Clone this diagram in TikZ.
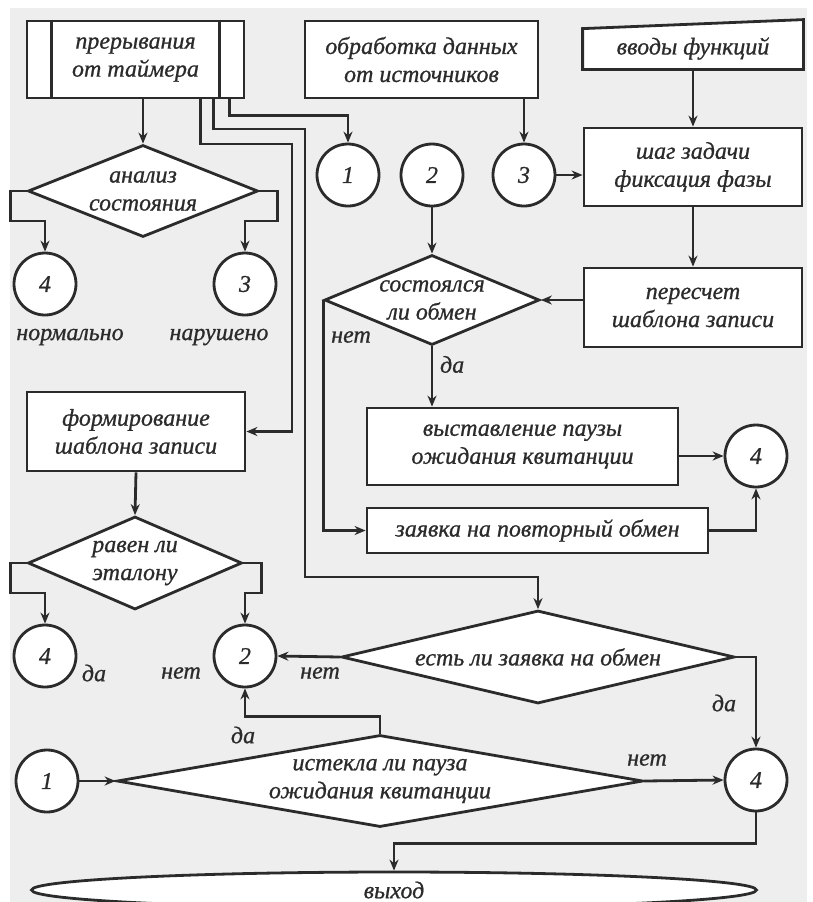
\documentclass[tikz,border=0pt]{standalone}
\usepackage{fontspec}
\setmainfont{Liberation Serif}
\newfontfamily\flowfont{Liberation Serif}[FakeBold=0.8]
\usetikzlibrary{arrows.meta}
\usetikzlibrary{shapes}
\definecolor{bggray}{HTML}{EEEEEE}
\definecolor{ink}{HTML}{2B2B2B}

\begin{document}
\begin{tikzpicture}[x=0.5pt, y=-0.5pt, >={Stealth[length=5.5pt,width=4.5pt]}, line width=1.4pt, color=ink,
    font=\fontsize{12}{14}\flowfont\itshape,
    box/.style = {draw, fill=white, rectangle, align=center, inner sep=0pt},
    cond/.style = {draw, fill=white, diamond, align=center, inner sep=0pt},
    conn/.style = {draw, fill=white, circle, minimum size=31pt, inner sep=0pt},
    term/.style = {draw, fill=white, ellipse, inner sep=0pt}]
    \useasboundingbox (0,0) rectangle (813,902);
    \fill[bggray] (10,8) rectangle (807,902);

    % Nodes
    \node[box, minimum width=108.5pt, minimum height=38.5pt] (timer) at (135.5,59.5) {прерывания\\от таймера};
    \draw ([xshift=13pt]timer.north west) -- ([xshift=13pt]timer.south west);
    \draw ([xshift=-13pt]timer.north east) -- ([xshift=-13pt]timer.south east);
    \node[box, minimum width=116.5pt, minimum height=38.5pt] (src) at (421.5,59.5) {обработка данных\\от источников};
    \node[inner sep=0pt, minimum width=109pt, minimum height=23.5pt] (inputs) at (693,44.5) {};
    \draw[fill=white] (inputs.south west) -- ([yshift=-4.5pt]inputs.north west) -- (inputs.north east) -- (inputs.south east) -- cycle;
    \node at ([yshift=-2pt]inputs.center) {вводы функций};

    \node[conn] (c1top) at (348,175) {1};
    \node[conn] (c2top) at (432,175) {2};
    \node[conn] (c3top) at (524,175) {3};
    \node[box, minimum width=109pt, minimum height=39pt] (step) at (693,167) {шаг задачи\\фиксация фазы};
    \node[box, minimum width=109pt, minimum height=39.5pt] (recalc) at (693,307.5) {пересчет\\шаблона записи};

    \node[cond, aspect=2.5, minimum width=115pt, minimum height=46pt] (state) at (143,191) {анализ\\состояния};
    \node[conn] (c4l) at (45,284) {4};
    \node[conn] (c3l) at (245,284) {3};
    \node (norm) at (70,337) {нормально};
    \node (viol) at (219,337) {нарушено};

    \node[cond, aspect=2.39, minimum width=107.5pt, minimum height=45pt] (exch) at (432,300) {состоялся\\ли обмен};
    \node[box, minimum width=155.5pt, minimum height=38.5pt] (pause) at (522.5,446.5) {выставление паузы\\ожидания квитанции};
    \node[box, minimum width=170.5pt, minimum height=22.5pt] (retry) at (537.5,530.5) {заявка на повторный обмен};
    \node[conn] (c4r) at (756,456) {4};

    \node[box, minimum width=109pt, minimum height=39.5pt] (form) at (136,431.5) {формирование\\шаблона записи};
    \node[cond, aspect=2.3, minimum width=107pt, minimum height=46.5pt] (equal) at (135,563) {равен ли\\эталону};
    \node[conn] (c4bl) at (45,656) {4};
    \node[conn] (c2m) at (245,656) {2};
    \node[cond, aspect=4.23, minimum width=196.5pt, minimum height=46.5pt] (req) at (538,657) {есть ли заявка на обмен};
    \node[conn] (c1bl) at (47,781) {1};
    \node[cond, aspect=5.72, minimum width=263pt, minimum height=46pt] (tout) at (380,781) {истекла ли пауза\\ожидания квитанции};
    \node[conn] (c4br) at (756,780) {4};
    \node[term, minimum width=362.5pt, minimum height=18pt] (exit) at (394,890) {выход};

    % Edges
    \draw[->] (state.north |- timer.south) -- (state.north);
    \draw[->] ([xshift=-8pt]timer.south east) -- ++(0,16) -| (c1top.north);
    \draw[->] ([xshift=-16pt]timer.south east) |- (305,129) |- (538,577) -- (req.north);
    \draw[->] ([xshift=-22.5pt]timer.south east) |- (292,144) |- (form.east);
    \draw[->] (state.west) -| ++(-16,30) -| (c4l.north);
    \draw[->] (state.east) -| ++(18,30) -| (c3l.north);

    \draw[->] (c3top.north |- src.south) -- (c3top.north);
    \draw[->] (inputs.south) -- (step.north);
    \draw[->] (c3top.east) -- (c3top.east -| step.west);
    \draw[->] (step.south) -- (recalc.north);
    \draw[->] (recalc.west |- exch.east) -- (exch.east);
    \draw[->] (c2top.south) -- (exch.north);
    \draw[->] (exch.south) -- node[right, pos=0.3] {да} (exch.south |- pause.north);
    \draw[->] (exch.west) |- (retry.west);
    \node at (351,337) {нет};
    \draw[->] (c4r.west -| pause.east) -- (c4r.west);
    \draw[->] (retry.east) -| (c4r.south);

    \draw[->] (form.south) -- (equal.north);
    \draw[->] (equal.west) -| ++(-16,30) -| (c4bl.north);
    \draw[->] (equal.east) -| ++(18,30) -| (c2m.north);
    \node at (94,673) {да};
    \node at (181,673) {нет};
    \draw[->] (req.west) -- (c2m.east);
    \node at (320,673) {нет};
    \draw[->] (req.east) -| (c4br.north);
    \node at (724,703) {да};
    \draw[->] (tout.north) -- ++(0,-17) -| (c2m.south);
    \node at (243,735) {да};
    \draw[->] (c1bl.east) -- (tout.west);
    \draw[->] (tout.east) -- (c4br.west);
    \node at (647,760) {нет};
    \draw[->] (c4br.south) -- ++(0,31) -| (exit.north);

\end{tikzpicture}
\end{document}
